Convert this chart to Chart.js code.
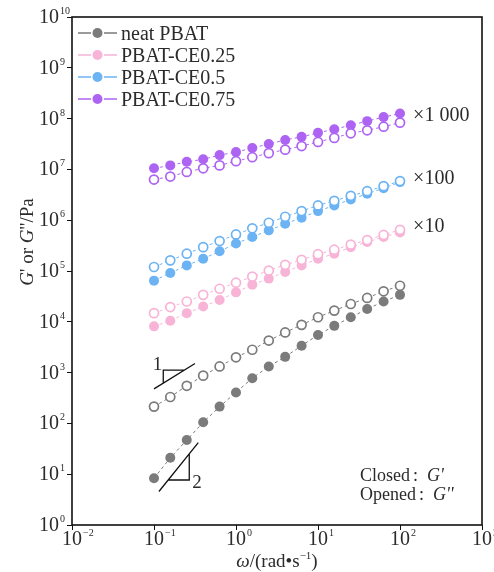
<!DOCTYPE html>
<html>
<head>
<meta charset="utf-8">
<script src="https://cdn.jsdelivr.net/npm/chart.js@4.4.0/dist/chart.umd.min.js"></script>
<style>
  body { margin: 0; background: #fff; }
  #wrap { width: 494px; height: 572px; }
</style>
</head>
<body>
<div id="wrap"><canvas id="chart" width="494" height="572"></canvas></div>
<script>
// angular frequency, rad/s
var omega = [0.1, 0.158, 0.251, 0.398, 0.631, 1, 1.58, 2.51, 3.98, 6.31, 10, 15.8, 25.1, 39.8, 63.1, 100];

var names = ["neat PBAT", "PBAT-CE0.25", "PBAT-CE0.5", "PBAT-CE0.75"];
var shifts = [1, 10, 100, 1000];           // vertical shift factors used in the figure
var shiftLabels = ["", "\u00d710", "\u00d7100", "\u00d71 000"];
var colors = ["#7b7b7b", "#f8b4d7", "#6cb3f4", "#ae64f2"];

// storage modulus G' (Pa), unshifted
var gp_neat = [8.3, 21, 47, 105, 214, 407, 776, 1320, 2040, 3390, 5500, 8320, 12300, 17800, 25100, 33900];
var gp_025  = [813, 1050, 1480, 2000, 2690, 3800, 5370, 7080, 9550, 12900, 17400, 21900, 29500, 37200, 46800, 57500];
var gp_05   = [646, 912, 1290, 1740, 2450, 3470, 4680, 6310, 8510, 11200, 15100, 19500, 25700, 33100, 42700, 56200];
var gp_075  = [10500, 12000, 14100, 15800, 19100, 21900, 26300, 31600, 38000, 43700, 52500, 61700, 74100, 89100, 107000, 126000];

// loss modulus G'' (Pa), unshifted
var gpp_neat = [214, 331, 550, 871, 1320, 2000, 2820, 4270, 6170, 8710, 12300, 16600, 22400, 29500, 39800, 51300];
var gpp_025  = [1480, 1950, 2510, 3390, 4470, 5890, 7760, 10200, 13200, 16600, 21400, 26300, 33100, 40700, 51300, 64600];
var gpp_05   = [1200, 1620, 2190, 2950, 3890, 5250, 6920, 8910, 11700, 15100, 19500, 24000, 30200, 37200, 46800, 58900];
var gpp_075  = [6310, 7240, 8910, 10500, 12000, 14500, 17400, 20900, 24500, 28800, 34700, 41700, 51300, 58900, 69200, 83200];

var xTicks = [1e-2, 1e-1, 1e0, 1e1, 1e2, 1e3];
var yTicks = [1e0, 1e1, 1e2, 1e3, 1e4, 1e5, 1e6, 1e7, 1e8, 1e9, 1e10];

var gpAll = [gp_neat, gp_025, gp_05, gp_075];
var gppAll = [gpp_neat, gpp_025, gpp_05, gpp_075];

var FONT = '"Liberation Serif", "Times New Roman", serif';
var INK = "#2b2b2b";

function pts(arr, f) {
  var out = [];
  for (var i = 0; i < omega.length; i++) out.push({x: omega[i], y: arr[i] * f});
  return out;
}

var datasets = [];
for (var s = 0; s < 4; s++) {
  // open symbols: G''
  datasets.push({
    label: names[s] + " G''",
    data: pts(gppAll[s], shifts[s]),
    showLine: true,
    borderColor: colors[s],
    borderWidth: 1,
    borderDash: [3, 3],
    pointRadius: 4.5,
    pointBorderWidth: 1.7,
    pointBackgroundColor: "#fff",
    pointBorderColor: colors[s],
    order: 0
  });
  // closed symbols: G'
  datasets.push({
    label: names[s] + " G'",
    data: pts(gpAll[s], shifts[s]),
    showLine: true,
    borderColor: colors[s],
    borderWidth: 1,
    borderDash: [3, 3],
    pointRadius: 5,
    pointBorderWidth: 0,
    pointBackgroundColor: colors[s],
    pointBorderColor: colors[s],
    order: 1
  });
}

function rich(ctx, segs, x, y, align) {
  var w = 0;
  segs.forEach(function (sg) { ctx.font = sg.f; sg.w = ctx.measureText(sg.t).width; w += sg.w + (sg.gap || 0); });
  var cx = align === "center" ? x - w / 2 : (align === "right" ? x - w : x);
  ctx.textAlign = "left";
  ctx.textBaseline = "alphabetic";
  segs.forEach(function (sg) {
    ctx.font = sg.f;
    ctx.fillText(sg.t, cx, y + (sg.dy || 0));
    cx += sg.w + (sg.gap || 0);
  });
}

var decor = {
  id: "decor",
  afterDraw: function (chart) {
    var ctx = chart.ctx, xs = chart.scales.x, ys = chart.scales.y, a = chart.chartArea;
    function P(lx, ly) { return [xs.getPixelForValue(Math.pow(10, lx)), ys.getPixelForValue(Math.pow(10, ly))]; }
    ctx.save();
    // frame
    ctx.strokeStyle = "#111";
    ctx.lineWidth = 1.6;
    ctx.strokeRect(a.left, a.top, a.right - a.left, a.bottom - a.top);

    ctx.fillStyle = INK;
    var big = "20px " + FONT, sup = "10px " + FONT;
    // y tick labels
    yTicks.forEach(function (v) {
      var py = ys.getPixelForValue(v);
      var e = String(Math.round(Math.log10(v)));
      ctx.font = big; ctx.textAlign = "right"; ctx.textBaseline = "alphabetic";
      ctx.fillText("10", 59, py + 6);
      ctx.font = sup; ctx.textAlign = "left";
      ctx.fillText(e, 60, py - 3);
    });
    // x tick labels
    xTicks.forEach(function (v) {
      var px = xs.getPixelForValue(v);
      var e = Math.round(Math.log10(v));
      var es = e < 0 ? "\u2212" + (-e) : String(e);
      ctx.font = big; ctx.textAlign = "center"; ctx.textBaseline = "alphabetic";
      ctx.fillText("10", px, 545);
      var w = ctx.measureText("10").width;
      ctx.font = sup; ctx.textAlign = "left";
      ctx.fillText(es, px + w / 2 + 1, 536);
    });

    // axis titles
    var t18 = "19px " + FONT, i18 = "italic 19px " + FONT;
    rich(ctx, [
      {t: "\u03c9", f: i18},
      {t: "/(rad\u2022s", f: t18},
      {t: "\u22121", f: "11px " + FONT, dy: -8},
      {t: ")", f: t18}
    ], 277, 567, "center");
    ctx.save();
    ctx.translate(27, 242);
    ctx.rotate(-Math.PI / 2);
    rich(ctx, [
      {t: "G", f: i18},
      {t: "' or ", f: t18},
      {t: "G", f: i18},
      {t: "''/Pa", f: t18}
    ], 0, 6, "center");
    ctx.restore();

    // legend
    for (var s = 0; s < 4; s++) {
      var ly = 33 + s * 22;
      ctx.strokeStyle = colors[s];
      ctx.lineWidth = 1.3;
      ctx.beginPath();
      ctx.moveTo(78, ly); ctx.lineTo(91, ly);
      ctx.moveTo(104, ly); ctx.lineTo(117, ly);
      ctx.stroke();
      ctx.fillStyle = colors[s];
      ctx.beginPath(); ctx.arc(97.5, ly, 5, 0, Math.PI * 2); ctx.fill();
      ctx.fillStyle = INK;
      ctx.font = "20px " + FONT; ctx.textAlign = "left"; ctx.textBaseline = "alphabetic";
      ctx.fillText(names[s], 121, ly + 7);
    }

    // shift factors
    ctx.fillStyle = INK;
    ctx.font = "20px " + FONT;
    var shiftY = [0, 5.87, 6.81, 8.05];
    for (var s2 = 1; s2 < 4; s2++) {
      var q = P(2.16, shiftY[s2]);
      ctx.textAlign = "left"; ctx.textBaseline = "middle";
      ctx.fillText(shiftLabels[s2], q[0], q[1]);
    }

    // slope triangles
    ctx.strokeStyle = "#111";
    ctx.lineWidth = 1.3;
    var l1 = P(-1.0, 2.68), l2 = P(-0.5, 3.18), v1 = P(-0.887, 3.05), v2 = P(-0.887, 2.793), h2 = P(-0.63, 3.05);
    ctx.beginPath();
    ctx.moveTo(l1[0], l1[1]); ctx.lineTo(l2[0], l2[1]);
    ctx.moveTo(v2[0], v2[1]); ctx.lineTo(v1[0], v1[1]); ctx.lineTo(h2[0], h2[1]);
    ctx.stroke();
    ctx.font = "19px " + FONT; ctx.textAlign = "right"; ctx.textBaseline = "alphabetic";
    ctx.fillText("1", v1[0] - 1, v1[1]);

    var m1 = P(-0.94, 0.66), m2 = P(-0.46, 1.62), w1 = P(-0.57, 1.40), w2 = P(-0.57, 0.886), w3 = P(-0.827, 0.886);
    ctx.beginPath();
    ctx.moveTo(m1[0], m1[1]); ctx.lineTo(m2[0], m2[1]);
    ctx.moveTo(w1[0], w1[1]); ctx.lineTo(w2[0], w2[1]); ctx.lineTo(w3[0], w3[1]);
    ctx.stroke();
    ctx.textAlign = "left";
    ctx.fillText("2", w2[0] + 3, w2[1] + 8);

    // symbol key
    var n18 = "18px " + FONT, it18 = "italic 18px " + FONT;
    rich(ctx, [{t: "Closed", f: n18, gap: 3}, {t: ":", f: n18, gap: 9}, {t: "G'", f: it18}], 360, 481, "left");
    rich(ctx, [{t: "Opened", f: n18, gap: 3}, {t: ":", f: n18, gap: 9}, {t: "G''", f: it18}], 360, 500, "left");
    ctx.restore();
  }
};

new Chart(document.getElementById("chart"), {
  type: "scatter",
  data: { datasets: datasets },
  options: {
    responsive: false,
    animation: false,
    layout: { padding: { top: 17, right: 12, left: 0, bottom: 0 } },
    plugins: { legend: { display: false }, tooltip: { enabled: false } },
    scales: {
      x: {
        type: "logarithmic",
        min: 1e-2, max: 1e3,
        afterBuildTicks: function (sc) { sc.ticks = xTicks.map(function (v) { return {value: v}; }); },
        afterFit: function (sc) { sc.height = 47; },
        ticks: { display: false },
        border: { display: false },
        grid: { drawOnChartArea: false, drawTicks: true, tickLength: 5, color: "#111", lineWidth: 1 }
      },
      y: {
        type: "logarithmic",
        min: 1, max: 1e10,
        afterBuildTicks: function (sc) { sc.ticks = yTicks.map(function (v) { return {value: v}; }); },
        afterFit: function (sc) { sc.width = 72; },
        ticks: { display: false },
        border: { display: false },
        grid: { drawOnChartArea: false, drawTicks: true, tickLength: 5, color: "#111", lineWidth: 1 }
      }
    }
  },
  plugins: [decor]
});
</script>
</body>
</html>
